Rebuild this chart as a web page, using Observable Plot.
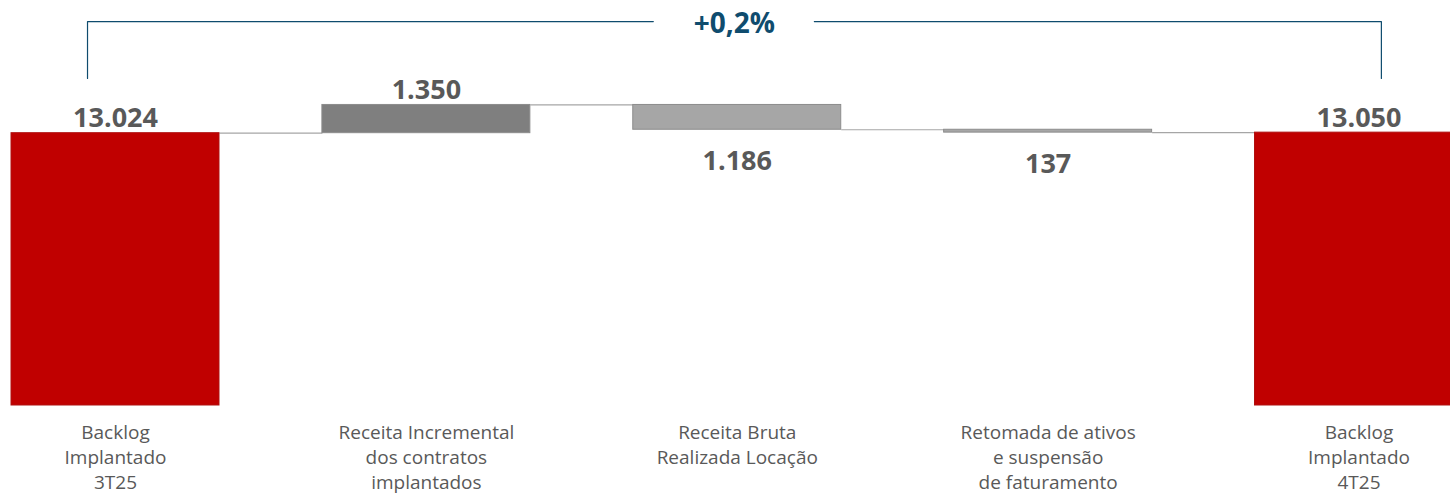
<!DOCTYPE html>
<html><head><meta charset="utf-8">
<script src="https://cdn.jsdelivr.net/npm/d3@7"></script>
<script src="https://cdn.jsdelivr.net/npm/@observablehq/plot@0.6"></script>
<style>body{margin:0;background:#fff;overflow:hidden;}</style>
</head><body><div id="chart"></div>
<script>
// ---- data ----
const categories = [
  "Backlog\nImplantado\n3T25",
  "Receita Incremental\ndos contratos\nimplantados",
  "Receita Bruta\nRealizada Locação",
  "Retomada de ativos\ne suspensão\nde faturamento",
  "Backlog\nImplantado\n4T25"
];
const values = [13024, 1350, -1186, -137, 13050];
const kinds = ["total", "increase", "decrease", "decrease", "total"];
const valueLabels = ["13.024", "1.350", "1.186", "137", "13.050"];

// ---- derived ----
let run = 0;
const rows = values.map((v, i) => {
  let y1, y2;
  if (kinds[i] === "total") { y1 = 0; y2 = v; run = v; }
  else { y1 = run; y2 = run + v; run = y2; }
  return {i, kind: kinds[i], label: valueLabels[i], y1, y2, lo: Math.min(y1, y2), hi: Math.max(y1, y2)};
});
const links = rows.slice(0, -1).map((r, k) => ({from: k, to: k + 1, level: r.y2}));
const pct = (values[4] / values[0] - 1) * 100;
const changeLabel = (pct >= 0 ? "+" : "") + pct.toFixed(1).replace(".", ",") + "%";

const hw = 0.3345; // half bar width in category units
const fills = {total: "#C00000", increase: "#7F7F7F", decrease: "#A6A6A6"};
const strokes = {total: "#B01010", increase: "#8C8C8C", decrease: "#8C8C8C"};

// bracket annotation (in category / value units)
const bracketTop = 18364, bracketBottom = 15640;
const bracketLeft = -0.09, bracketRight = 4.072, gapLeft = 1.73, gapRight = 2.248, labelX = 1.991;

const chart = Plot.plot({
  width: 1450,
  height: 497,
  marginTop: 0,
  marginBottom: 92,
  marginLeft: 0,
  marginRight: 0,
  style: {fontFamily: "'Open Sans', sans-serif", background: "#fff"},
  x: {domain: [0, 4], range: [115, 1358.5], axis: null, label: null},
  y: {domain: [0, 19370], axis: null, label: null},
  marks: [
    Plot.link(links, {
      x1: d => d.from + hw, x2: d => d.to - hw, y1: "level", y2: "level",
      stroke: "#A6A6A6", strokeWidth: 1.2
    }),
    Plot.rectY(rows, {
      x1: d => d.i - hw, x2: d => d.i + hw, y1: "lo", y2: "hi",
      fill: d => fills[d.kind], stroke: d => strokes[d.kind], strokeWidth: 1
    }),
    Plot.text(rows.filter(d => d.kind !== "decrease"), {
      x: "i", y: "hi", text: "label", lineAnchor: "bottom", dy: -6,
      fontSize: 27, fontWeight: "bold", fill: "#595959"
    }),
    Plot.text(rows.filter(d => d.kind === "decrease"), {
      x: "i", y: "lo", text: "label", lineAnchor: "top", dy: 21,
      fontSize: 27, fontWeight: "bold", fill: "#595959"
    }),
    Plot.line([[bracketLeft, bracketBottom], [bracketLeft, bracketTop], [gapLeft, bracketTop]], {
      x: d => d[0], y: d => d[1], stroke: "#0F4C6E", strokeWidth: 1.2
    }),
    Plot.line([[gapRight, bracketTop], [bracketRight, bracketTop], [bracketRight, bracketBottom]], {
      x: d => d[0], y: d => d[1], stroke: "#0F4C6E", strokeWidth: 1.2
    }),
    Plot.text([changeLabel], {
      x: labelX, y: bracketTop, text: d => d, lineAnchor: "middle", dy: 2,
      fontSize: 28, fontWeight: "bold", fill: "#0F4C6E"
    }),
    Plot.axisX({
      ticks: d3.range(categories.length), tickFormat: i => categories[i],
      tickSize: 0, tickPadding: 16, fontSize: 19, lineHeight: 1.316,
      color: "#595959", fill: "#595959", label: null
    })
  ]
});
document.getElementById("chart").append(chart);
</script>
</body></html>
